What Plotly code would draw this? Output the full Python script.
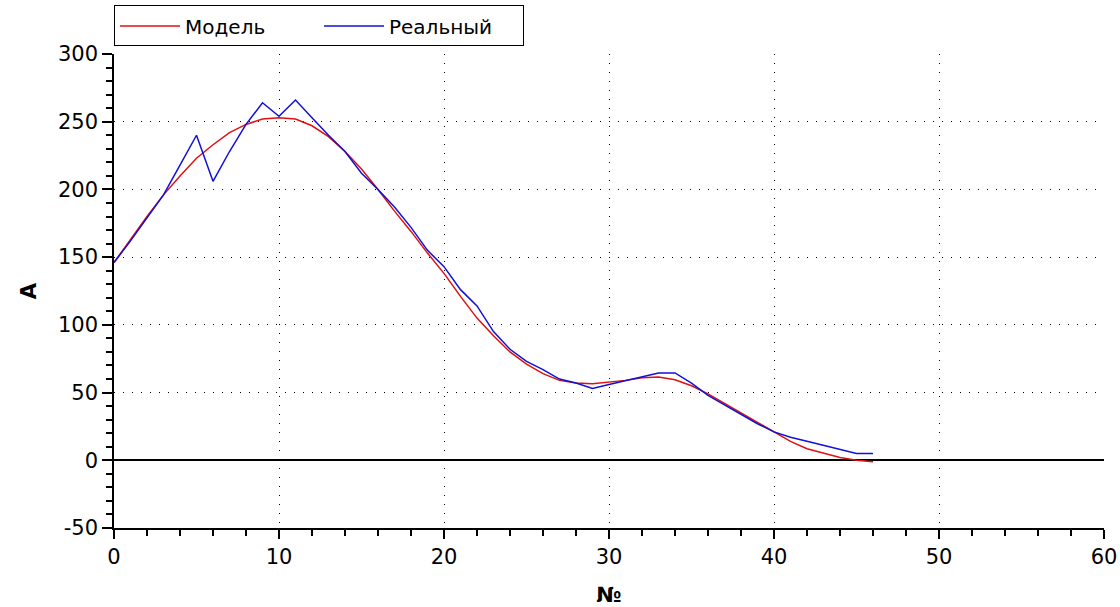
import plotly.graph_objects as go

idx = list(range(47))

model = [146, 163, 180, 196, 210, 223, 233, 242, 248, 252,
         253, 252, 247, 239, 228, 215, 200, 184, 169, 153,
         138, 121, 105, 92, 80, 71, 64, 59, 57, 56.5,
         57.5, 59, 61, 61.5, 59.5, 55, 49, 42, 35, 28,
         21, 14, 8.5, 5, 2, 0, -1]

real = [146, 162, 179, 196, 218, 240, 206, 228, 248, 264,
        254, 266, 253, 240, 228, 212, 200, 187, 172, 155,
        143, 126, 114, 95, 82, 73, 67, 60, 57, 53,
        56, 59, 62, 64.5, 64.5, 57, 48, 41, 34, 27,
        21, 17, 14, 11, 8, 5, 5]

series_names = ["Модель", "Реальный"]
x_range = [0, 60]
y_range = [-50, 300]
y_tickvals = [-50, 0, 50, 100, 150, 200, 250, 300]
y_ticktext = ["-50", "0", "50", "100", "150", "200", "250", "300"]

FONT = "DejaVu Sans, Verdana, sans-serif"

fig = go.Figure()
fig.add_trace(go.Scatter(x=idx, y=model, mode="lines", name=series_names[0],
                         line=dict(color="#e01010", width=1.5)))
fig.add_trace(go.Scatter(x=idx, y=real, mode="lines", name=series_names[1],
                         line=dict(color="#1010d8", width=1.5)))

common = dict(tickcolor="black", tickwidth=1.5, linecolor="black", linewidth=1.5,
              autorange=False, automargin=False)

fig.update_layout(
    width=1120, height=607,
    margin=dict(l=114, r=16, t=54, b=79, autoexpand=False),
    paper_bgcolor="white", plot_bgcolor="white",
    font=dict(family=FONT, color="black"),
    showlegend=True,
    legend=dict(orientation="h", x=0.0, xanchor="left",
                yref="container", y=0.991, yanchor="top",
                bordercolor="black", borderwidth=1, bgcolor="white",
                font=dict(size=20, family=FONT), itemwidth=60,
                entrywidth=129, tracegroupgap=0),
    xaxis=dict(range=x_range, dtick=10, tick0=0, side="bottom", anchor="y",
               ticks="outside", ticklen=9, showline=True, zeroline=False,
               showgrid=True, gridcolor="black", gridwidth=1, griddash="1px,8px",
               minor=dict(dtick=2, ticks="outside", ticklen=6, tickcolor="black",
                          tickwidth=1.5, showgrid=False),
               tickfont=dict(size=21, family=FONT),
               title=dict(text="<b>№</b>", font=dict(size=21, family=FONT), standoff=20),
               **common),
    xaxis2=dict(range=x_range, dtick=10, tick0=0, side="bottom", anchor="y",
                overlaying="x", ticks="inside", ticklen=9, showline=False,
                zeroline=False, showgrid=False, showticklabels=False,
                minor=dict(dtick=2, ticks="inside", ticklen=6, tickcolor="black",
                           tickwidth=1.5, showgrid=False),
                **common),
    xaxis3=dict(range=x_range, dtick=10, tick0=0, side="top", anchor="y",
                overlaying="x", ticks="inside", ticklen=7, showline=True,
                zeroline=False, showgrid=False, showticklabels=False,
                minor=dict(dtick=2, ticks="inside", ticklen=5, tickcolor="black",
                           tickwidth=1.5, showgrid=False),
                **common),
    yaxis=dict(range=y_range, tickmode="array", tickvals=y_tickvals, ticktext=y_ticktext,
               side="left", anchor="x",
               ticks="outside", ticklen=10, showline=True,
               zeroline=True, zerolinecolor="black", zerolinewidth=1.5,
               showgrid=True, gridcolor="black", gridwidth=1, griddash="1px,8px",
               minor=dict(dtick=10, tick0=0, ticks="outside", ticklen=6, tickcolor="black",
                          tickwidth=1.5, showgrid=False),
               tickfont=dict(size=21, family=FONT),
               title=dict(text="<b>A</b>", font=dict(size=21, family=FONT), standoff=16),
               **common),
    yaxis2=dict(range=y_range, dtick=50, tick0=0, side="left", anchor="x",
                overlaying="y", ticks="inside", ticklen=9, showline=False,
                zeroline=False, showgrid=False, showticklabels=False,
                minor=dict(dtick=10, ticks="inside", ticklen=6, tickcolor="black",
                           tickwidth=1.5, showgrid=False),
                **common),
    yaxis3=dict(range=y_range, dtick=50, tick0=0, side="right", anchor="x",
                overlaying="y", ticks="inside", ticklen=10, showline=True,
                zeroline=False, showgrid=False, showticklabels=False,
                minor=dict(dtick=10, ticks="inside", ticklen=6, tickcolor="black",
                           tickwidth=1.5, showgrid=False),
                **common),
)

fig.write_html("out.html")
